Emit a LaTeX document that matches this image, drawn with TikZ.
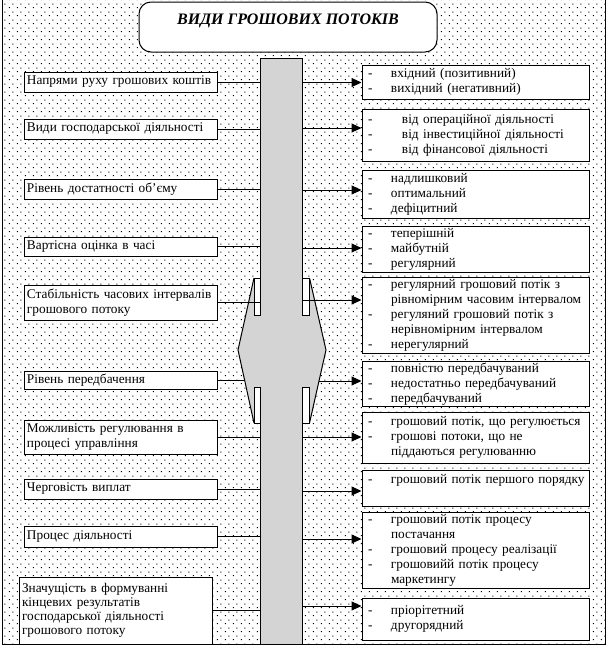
\documentclass[tikz,border=0pt]{standalone}
\usepackage{fontspec}
\setmainfont{Liberation Serif}
\usetikzlibrary{arrows.meta,patterns}
\definecolor{barg}{RGB}{212,212,212}
\pgfdeclarepatternformonly{worddots}{\pgfpointorigin}{\pgfpoint{8pt}{8pt}}{\pgfpoint{8pt}{8pt}}{%
  \pgfpathrectangle{\pgfpoint{1pt}{1pt}}{\pgfpoint{1.1pt}{1.1pt}}%
  \pgfpathrectangle{\pgfpoint{5pt}{5pt}}{\pgfpoint{1.1pt}{1.1pt}}%
  \pgfusepath{fill}}
\newcommand{\itm}[2][23pt]{\mbox{\strut\makebox[#1][l]{-}#2}}
\newcommand{\cnt}[2][23pt]{\mbox{\strut\hspace*{#1}#2}}
\begin{document}
\begin{tikzpicture}[x=1pt,y=-1pt,
  lbox/.style={draw, fill=white, line width=1pt, inner xsep=3pt, inner ysep=0pt, text width=187pt, minimum width=193pt, align=left, font=\fontsize{13.3}{15.5}\selectfont},
  rbox/.style={draw, fill=white, line width=1pt, inner xsep=6pt, inner ysep=0pt, text width=215pt, minimum width=227pt, align=left, font=\fontsize{13.3}{15}\selectfont},
  conn/.style={line width=1pt},
  arr/.style={line width=1pt, -{Triangle[length=10pt,width=9pt]}},
  titlebox/.style={draw, fill=white, line width=1pt, rounded corners=12pt, minimum width=298pt, minimum height=50pt, text height=11pt, text depth=17pt, font=\fontsize{16}{18}\selectfont\bfseries\itshape},
  edge/.style={line width=1pt}
]
\useasboundingbox (0,0) rectangle (608,648);
\fill[white] (0,0) rectangle (608,648);
\fill[pattern=worddots, pattern color=black] (2,0) rectangle (605.5,644);
\draw[edge] (2,0) -- (2,644) -- (605.5,644) -- (605.5,0);

% central bar with diamond
\fill[barg] (254,278) -- (238,350) -- (254,423) -- (310,423) -- (326,350) -- (310,278) -- cycle;
\fill[barg] (260.5,58) rectangle (302.5,644);
\draw[edge, fill=white] (254,278) rectangle (260.5,315);
\draw[edge, fill=white] (302.5,278) rectangle (309,315);
\draw[edge, fill=white] (254,387) rectangle (260.5,423);
\draw[edge, fill=white] (302.5,387) rectangle (309,423);
\draw[edge] (260.5,315) -- (260.5,58) -- (302.5,58) -- (302.5,315);
\draw[edge] (260.5,387) -- (260.5,644);
\draw[edge] (302.5,387) -- (302.5,644);
\draw[edge] (254,278) -- (238,350) -- (254,423);
\draw[edge] (309.5,278) -- (326,350) -- (309.5,423);

% title
\node[titlebox] (t) at (288,27) {ВИДИ ГРОШОВИХ ПОТОКІВ};

% left boxes
\node[lbox, minimum height=20pt] (l1) at (120.5,82) {\mbox{Напрями руху грошових коштів}};
\node[lbox, minimum height=20pt] (l2) at (120.5,129) {\mbox{Види господарської діяльності}};
\node[lbox, minimum height=20pt] (l3) at (120.5,189) {\mbox{Рівень достатності об’єму}};
\node[lbox, minimum height=19pt] (l4) at (120.5,246.5) {\mbox{Вартісна оцінка в часі}};
\node[lbox, minimum height=35pt] (l5) at (120.5,302.5) {\mbox{Стабільність часових інтервалів}\\\mbox{грошового потоку}};
\node[lbox, minimum height=18pt] (l6) at (120.5,380) {\mbox{Рівень передбачення}};
\node[lbox, minimum height=34pt] (l7) at (120.5,437) {\mbox{Можливість регулювання в}\\\mbox{процесі управління}};
\node[lbox, minimum height=20pt] (l8) at (120.5,489) {\mbox{Черговість виплат}};
\node[lbox, minimum height=21pt] (l9) at (120.5,536.5) {\mbox{Процес діяльності}};
\node[lbox, minimum height=67pt, font=\fontsize{13.3}{14}\selectfont] (l10) at (115.5,610.5) {\mbox{Значущість в формуванні}\\\mbox{кінцевих результатів}\\\mbox{господарської діяльності}\\\mbox{грошового потоку}};

% right boxes
\node[rbox, minimum height=34pt] (r1) at (475.5,82) {\itm{вхідний (позитивний)}\\\itm{вихідний (негативний)}};
\node[rbox, minimum height=52pt] (r2) at (475.5,135) {\itm[34pt]{від операційної діяльності}\\\itm[34pt]{від інвестиційної діяльності}\\\itm[34pt]{від фінансової діяльності}};
\node[rbox, minimum height=48pt] (r3) at (475.5,194) {\itm{надлишковий}\\\itm{оптимальний}\\\itm{дефіцитний}};
\node[rbox, minimum height=46pt] (r4) at (475.5,249) {\itm{теперішній}\\\itm{майбутній}\\\itm{регулярний}};
\node[rbox, minimum height=76pt] (r5) at (475.5,315) {\itm{регулярний грошовий потік з}\\\cnt{рівномірним часовим інтервалом}\\\itm{регуляний грошовий потік з}\\\cnt{нерівномірним інтервалом}\\\itm{нерегулярний}};
\node[rbox, minimum height=44pt] (r6) at (475.5,384) {\itm{повністю передбачуваний}\\\itm{недостатньо передбачуваний}\\\itm{передбачуваний}};
\node[rbox, minimum height=51pt] (r7) at (475.5,437.5) {\itm{грошовий потік, що регулюється}\\\itm{грошові потоки, що не}\\\cnt{піддаються регулюванню}};
\node[rbox, minimum height=36pt] (r8) at (475.5,488) {\itm{грошовий потік першого порядку}\\\cnt{}};
\node[rbox, minimum height=76pt] (r9) at (475.5,550) {\itm{грошовий потік процесу}\\\cnt{постачання}\\\itm{грошовий процесу реалізації}\\\itm{грошовийй потік процесу}\\\cnt{маркетингу}};
\node[rbox, minimum height=42pt] (r10) at (475.5,619) {\itm{пріорітетний}\\\itm{другорядний}};

% connector end points on the bar
\coordinate (bl1) at (260.5,82);   \coordinate (br1) at (302.5,82.5);
\coordinate (bl2) at (260.5,129);  \coordinate (br2) at (302.5,128);
\coordinate (bl3) at (260.5,189);  \coordinate (br3) at (302.5,190);
\coordinate (bl4) at (260.5,246.5);\coordinate (br4) at (302.5,248);
\coordinate (bl5) at (260.5,302.5);\coordinate (br5) at (302.5,300);
\coordinate (bl6) at (244.6,380);  \coordinate (br6) at (319.2,381);
\coordinate (bl7) at (260.5,437);  \coordinate (br7) at (302.5,437);
\coordinate (bl8) at (260.5,489);  \coordinate (br8) at (302.5,491);
\coordinate (bl9) at (260.5,536.5);\coordinate (br9) at (302.5,539);
\coordinate (bl10) at (260.5,610.5);\coordinate (br10) at (302.5,606);

\foreach \i in {1,...,10}{
  \draw[conn] (l\i.east |- bl\i) -- (bl\i);
  \draw[arr] (br\i) -- (br\i -| r\i.west);
}
\end{tikzpicture}
\end{document}
